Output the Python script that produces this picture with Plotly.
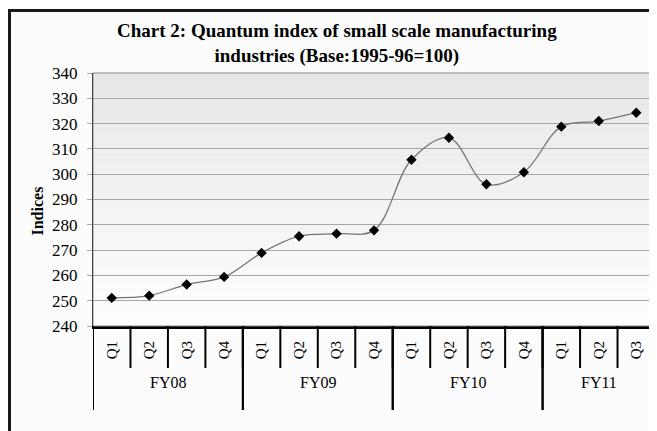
import plotly.graph_objects as go

fiscal_years = ["FY08"] * 4 + ["FY09"] * 4 + ["FY10"] * 4 + ["FY11"] * 3
quarters = ["Q1", "Q2", "Q3", "Q4"] * 3 + ["Q1", "Q2", "Q3"]
indices = [251.1, 252.0, 256.4, 259.4, 268.9, 275.5, 276.5, 277.8,
           305.7, 314.4, 296.0, 300.8, 318.8, 321.0, 324.3]
y_ticks = [240, 250, 260, 270, 280, 290, 300, 310, 320, 330, 340]

# page body has an 8px margin, so the figure is drawn 8px smaller
OFF = 8
W, H = 657 - OFF, 431 - OFF
PL, PR, PT, PB = 93, 655, 73, 326          # plot area in window pixels
ML, MR, MT, MB = PL - OFF, W - (PR - OFF), PT - OFF, H - (PB - OFF)
pw, ph = PR - PL, PB - PT
FONT = "Liberation Serif"


def px(x):
    return (x - PL) / pw


def py(y):
    return (PB - y) / ph


keys = [f"{f} {q}" for f, q in zip(fiscal_years, quarters)]

fig = go.Figure()
fig.add_trace(go.Scatter(
    x=keys, y=indices, mode="lines+markers",
    line=dict(shape="spline", smoothing=1.0, color="#747474", width=1.3),
    marker=dict(symbol="diamond", size=8, color="black"),
    showlegend=False, cliponaxis=False,
))

shapes = []
# vertical gradient in the plot area
n = 30
c_top, c_bot = 0xE7, 0xFE
for i in range(n):
    t = i / (n - 1)
    c = int(round(c_top + (c_bot - c_top) * t))
    shapes.append(dict(type="rect", xref="paper", yref="paper",
                       x0=0, x1=1, y0=1 - (i + 1) / n, y1=1 - i / n,
                       fillcolor=f"rgb({c},{c},{c})", line=dict(width=0),
                       layer="below"))
# plot-area border
shapes.append(dict(type="rect", xref="paper", yref="paper", x0=0, x1=1, y0=0, y1=1,
                   line=dict(color="#888888", width=1), fillcolor="rgba(0,0,0,0)",
                   layer="above"))
# outer chart frame
shapes.append(dict(type="rect", xref="paper", yref="paper",
                   x0=px(9.5), x1=px(680), y0=py(450), y1=py(10.5),
                   line=dict(color="#1a1a1a", width=3), fillcolor="rgba(0,0,0,0)"))

# category separators and fiscal-year dividers below the axis
annotations = []
groups = []
for i, f in enumerate(fiscal_years):
    if not groups or groups[-1][0] != f:
        groups.append([f, i, i])
    else:
        groups[-1][2] = i
for i in range(len(keys) + 1):
    shapes.append(dict(type="line", xref="x", yref="paper", x0=i - 0.5, x1=i - 0.5,
                       y0=0, y1=py(368), line=dict(color="black", width=2)))
for f, a, b in groups:
    for xb in (a - 0.5, b + 0.5):
        shapes.append(dict(type="line", xref="x", yref="paper", x0=xb, x1=xb,
                           y0=0, y1=py(410), line=dict(color="black", width=2)))
    annotations.append(dict(text=f, xref="x", yref="paper", x=(a + b) / 2, y=py(393),
                            showarrow=False, font=dict(family=FONT, size=16, color="black")))

annotations.append(dict(text="<b>Chart 2: Quantum index of small scale manufacturing<br>"
                             "industries (Base:1995-96=100)</b>",
                        xref="paper", yref="paper", x=px(337), y=py(18), yanchor="top",
                        showarrow=False, align="center",
                        font=dict(family=FONT, size=19, color="black")))
annotations.append(dict(text="<b>Indices</b>", xref="paper", yref="paper",
                        x=px(26), y=py(211), textangle=-90, showarrow=False,
                        font=dict(family=FONT, size=16, color="black")))

fig.update_layout(
    width=W, height=H,
    margin=dict(l=ML, r=MR, t=MT, b=MB, autoexpand=False),
    paper_bgcolor="#fcfcfc", plot_bgcolor="rgba(0,0,0,0)",
    font=dict(family=FONT, size=16, color="black"),
    shapes=shapes, annotations=annotations,
)
fig.update_yaxes(range=[240, 340], tickvals=y_ticks, showgrid=True, gridcolor="#a6a6a6",
                 gridwidth=1, showline=True, linecolor="black", linewidth=1,
                 ticks="outside", ticklen=5, tickcolor="#a6a6a6",
                 ticklabelstandoff=6,
                 tickfont=dict(family=FONT, size=17), zeroline=False)
fig.update_xaxes(type="category", tickvals=keys, ticktext=quarters, tickangle=-90,
                 range=[-0.5, len(keys) - 0.5],
                 showline=True, linecolor="black", linewidth=3, ticks="",
                 ticklabelstandoff=6,
                 tickfont=dict(family=FONT, size=15), showgrid=False)

fig.write_html("out.html")
